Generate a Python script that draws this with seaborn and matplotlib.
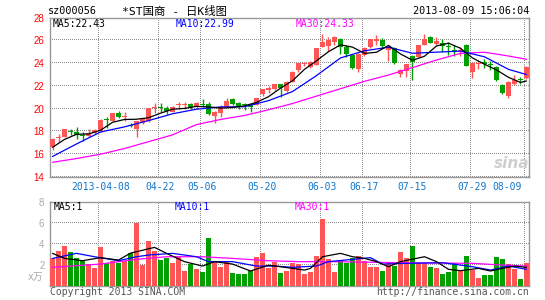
import numpy as np
import pandas as pd
import matplotlib
matplotlib.use("Agg")
import matplotlib.pyplot as plt
import seaborn as sns

# ---------------- data ----------------
opens = [16.6, 17.45, 17.55, 18.05, 17.98, 17.62, 17.6, 17.83, 18.0, 19.12,
         18.92, 19.58, 19.28, 18.56, 18.2, 18.72, 18.95, 20.05, 20.17, 20.1,
         19.73, 20.28, 20.28, 20.41, 20.12, 20.42, 20.41, 19.36, 19.65, 20.17,
         20.85, 20.52, 20.38, 20.3, 20.32, 21.26, 21.68, 21.7, 22.14, 21.55,
         22.37, 23.39, 23.95, 23.68, 23.83, 25.44, 25.5, 25.88, 26.09, 25.44,
         24.71, 23.45, 24.71, 25.39, 25.98, 26.03, 25.15, 25.3, 23.02, 23.33,
         24.6, 24.56, 25.59, 26.26, 25.68, 25.79, 25.5, 25.15, 25.07, 25.59,
         23.25, 23.95, 24.12, 23.85, 23.63, 22.08, 21.11, 22.17, 22.55, 22.66]
highs = [17.4, 17.8, 18.25, 18.2, 18.35, 17.98, 18.2, 18.25, 19.05, 19.25,
         19.65, 19.82, 19.7, 18.7, 18.95, 19.1, 20.05, 20.47, 20.52, 20.2,
         20.25, 20.61, 20.6, 20.5, 20.55, 20.82, 20.55, 19.8, 20.3, 20.9,
         20.9, 20.6, 20.5, 20.4, 20.95, 21.75, 22.0, 22.2, 22.2, 22.4,
         23.3, 24.0, 24.1, 24.2, 25.35, 26.55, 26.3, 26.4, 26.2, 25.6,
         24.8, 24.85, 25.4, 26.1, 26.47, 26.2, 25.55, 25.4, 23.45, 23.95,
         24.75, 25.6, 26.55, 26.4, 26.3, 26.09, 25.88, 25.6, 25.4, 25.7,
         24.12, 24.2, 24.35, 24.15, 23.7, 22.2, 22.4, 22.96, 22.75, 23.75]
lows = [16.37, 17.1, 17.5, 17.7, 17.3, 17.2, 17.55, 17.8, 17.95, 18.3,
        18.9, 19.2, 18.95, 18.35, 17.5, 18.65, 18.8, 19.62, 19.73, 19.5,
        19.7, 19.94, 20.0, 19.95, 20.0, 20.12, 19.4, 18.71, 19.3, 20.1,
        20.35, 19.95, 19.9, 19.73, 20.3, 21.15, 21.35, 21.65, 21.05, 21.5,
        22.3, 23.25, 23.7, 23.6, 23.8, 25.4, 25.1, 25.6, 24.8, 24.5,
        23.5, 23.25, 24.6, 25.3, 25.6, 25.3, 24.21, 23.9, 22.8, 22.8,
        22.5, 24.5, 25.55, 25.75, 25.6, 25.0, 24.71, 24.6, 24.65, 23.7,
        22.66, 23.5, 23.6, 23.35, 22.4, 21.3, 20.96, 22.08, 22.2, 22.6]
closes = [17.34, 17.5, 18.2, 17.92, 17.7, 17.56, 17.87, 18.15, 19.0, 19.02,
          19.58, 19.3, 19.34, 18.46, 18.94, 19.05, 20.02, 20.1, 20.05, 19.75,
          20.17, 20.33, 20.33, 20.17, 20.47, 20.35, 19.5, 19.73, 20.17, 20.7,
          20.41, 20.23, 20.28, 20.15, 20.9, 21.73, 21.72, 22.14, 21.84, 22.31,
          23.25, 23.98, 24.0, 24.12, 25.3, 25.88, 26.03, 26.26, 25.44, 24.8,
          23.54, 24.77, 25.3, 26.09, 26.05, 25.5, 25.5, 23.98, 23.39, 23.92,
          24.12, 25.59, 26.09, 25.79, 25.97, 25.5, 25.42, 25.02, 25.12, 23.75,
          23.98, 24.0, 23.9, 23.8, 22.52, 21.35, 22.37, 22.52, 22.5, 23.68]
volumes = [2.6, 3.3, 3.78, 3.2, 2.63, 2.44, 2.06, 1.71, 3.68, 2.19,
           2.35, 2.19, 2.35, 3.14, 6.0, 1.97, 4.25, 3.3, 2.44, 2.67,
           2.19, 2.76, 1.43, 2.1, 1.59, 1.3, 4.54, 2.29, 1.78, 2.35,
           1.24, 1.11, 1.11, 1.4, 2.73, 3.14, 1.71, 2.22, 1.24, 1.43,
           2.19, 2.06, 1.14, 1.33, 2.83, 6.35, 2.57, 1.33, 2.44, 2.13,
           2.63, 2.83, 2.35, 1.81, 1.81, 1.4, 2.19, 1.87, 3.21, 2.63,
           3.81, 2.19, 2.19, 1.78, 1.68, 1.11, 1.33, 2.13, 1.43, 2.83,
           1.49, 0.73, 1.02, 1.02, 2.73, 2.54, 2.06, 1.59, 0.63, 2.16]

# price moving averages
ma5_idx = [0, 2, 4, 6, 8, 10, 12, 14, 16, 18, 20, 22, 24, 26, 28, 30, 32, 34, 36, 38,
           40, 42, 44, 46, 48, 50, 52, 54, 56, 58, 60, 62, 64, 66, 68, 70, 72, 74, 76, 78, 79]
ma5_val = [16.6, 17.3, 17.75, 17.78, 18.1, 18.8, 19.05, 19.07, 19.2, 19.6, 19.95, 20.02,
           20.2, 20.15, 20.05, 20.1, 20.25, 20.55, 21.05, 21.8, 22.45, 23.45, 24.2, 25.0,
           25.6, 25.4, 24.85, 24.95, 25.55, 24.8, 24.25, 24.6, 25.5, 25.75, 25.3, 24.45,
           23.9, 23.4, 22.75, 22.3, 22.43]
ma_idx = [0, 4, 8, 12, 16, 20, 24, 28, 32, 36, 40, 44, 48, 52, 56, 60, 64, 68, 72, 76, 79]
ma10_val = [15.8, 16.9, 17.95, 18.4, 18.95, 19.55, 19.95, 20.15, 20.17, 20.7, 21.5,
            22.9, 24.45, 25.08, 25.39, 24.86, 24.96, 25.05, 24.55, 23.45, 22.99]
ma30_val = [15.29, 15.62, 16.0, 16.5, 17.1, 17.7, 18.6, 19.05, 19.4, 19.9, 20.45,
            21.1, 21.75, 22.4, 22.95, 23.6, 24.27, 24.85, 24.95, 24.62, 24.33]

# volume moving averages
vma5_idx = [0, 2, 5, 8, 11, 13, 17, 19, 22, 25, 27, 30, 33, 36, 38, 42, 43, 45, 48, 50,
            52, 54, 56, 58, 62, 64, 66, 68, 71, 73, 75, 77, 79]
vma5_val = [3.08, 2.6, 2.38, 2.67, 2.44, 3.1, 3.65, 3.08, 2.29, 1.87, 2.29, 2.06, 1.4,
            1.95, 1.81, 1.49, 1.65, 2.76, 3.08, 2.76, 2.6, 2.29, 1.81, 2.29, 2.76, 2.29,
            1.56, 1.43, 1.65, 1.4, 1.65, 1.87, 1.75]
vma10_idx = [0, 4, 7, 11, 14, 16, 20, 24, 26, 30, 34, 37, 40, 44, 46, 53, 55, 59, 65,
             70, 73, 76, 79]
vma10_val = [2.6, 3.08, 2.76, 2.38, 2.76, 2.92, 3.08, 2.76, 2.29, 2.29, 1.87, 1.87,
             1.75, 1.87, 2.29, 2.67, 2.06, 2.13, 2.19, 1.81, 1.49, 1.87, 1.56]
vma30_idx = [0, 8, 14, 19, 25, 30, 36, 41, 47, 58, 70, 75, 79]
vma30_val = [1.75, 2.06, 2.51, 2.76, 2.76, 2.6, 2.38, 2.29, 2.29, 2.19, 2.13, 1.97, 1.87]

tick_idx = [8, 18, 25, 35, 45, 52, 60, 70, 79]
tick_labels = ["2013-04-08", "04-22", "05-06", "05-20", "06-03", "06-17",
               "07-15", "07-29", "08-09"]
price_ticks = [14, 16, 18, 20, 22, 24, 26, 28]
vol_ticks = [2, 4, 6, 8]

# ---------------- style ----------------
sns.set_style("white")
plt.rcParams["font.family"] = ["DejaVu Sans Mono", "Noto Sans CJK SC"]

RED = "#FF5555"
GREEN = "#00A000"
GRID = "#909090"
SPINE = "#999999"
XLAB = "#1177CC"

W, H = 545, 300
fig = plt.figure(figsize=(W / 100, H / 100), dpi=100)
fig.patch.set_facecolor("white")


def px_axes(left, top, right, bottom):
    return fig.add_axes([left / W, 1 - bottom / H, (right - left) / W, (bottom - top) / H])


def ftext(x, y, s, **kw):
    fig.text(x / W, 1 - y / H, s, **kw)


ax1 = px_axes(50, 17.5, 529, 177)
ax2 = px_axes(50, 201.7, 529, 285.7)

n = len(closes)
idx = np.arange(n)
df = pd.DataFrame({"i": idx, "open": opens, "high": highs, "low": lows,
                   "close": closes, "vol": volumes})
df["dir"] = np.where(df["close"] >= df["open"], "up", "down")
colors = [RED if d == "up" else GREEN for d in df["dir"]]


# ---------------- dotted grid built from single-pixel dots ----------------
def dotted_grid(ax, yt, h_px, w_px=479):
    fy = np.arange(0, 1, 2.0 / h_px)
    fx = np.arange(0, 1, 2.0 / w_px)
    for t in tick_idx:
        ax.plot(np.full_like(fy, t - 0.35), fy, ",", color=GRID,
                transform=ax.get_xaxis_transform(), zorder=2.6)
    for t in yt:
        ax.plot(fx, np.full_like(fx, t), ",", color=GRID,
                transform=ax.get_yaxis_transform(), zorder=2.6)


# ---------------- price panel ----------------
ax1.vlines(df["i"], df["low"], df["high"], colors=colors, lw=1.0, zorder=3)
body_bottom = np.minimum(df["open"], df["close"])
body_h = np.maximum(np.abs(df["close"] - df["open"]), 0.09)
ax1.bar(df["i"], body_h, bottom=body_bottom, width=0.8, color=colors,
        linewidth=0, zorder=4)

sns.lineplot(x=ma_idx, y=ma30_val, ax=ax1, color="#FF00FF", lw=0.9, zorder=5)
sns.lineplot(x=ma_idx, y=ma10_val, ax=ax1, color="#0000FF", lw=0.9, zorder=5)
sns.lineplot(x=ma5_idx, y=ma5_val, ax=ax1, color="black", lw=0.9, zorder=5)

# ---------------- volume panel ----------------
sns.barplot(data=df, x="i", y="vol", hue="dir", palette={"up": RED, "down": GREEN},
            native_scale=True, dodge=False, width=0.8, legend=False, saturation=1,
            errorbar=None, linewidth=0, ax=ax2, zorder=3)
sns.lineplot(x=vma30_idx, y=vma30_val, ax=ax2, color="#FF00FF", lw=0.9, zorder=5)
sns.lineplot(x=vma10_idx, y=vma10_val, ax=ax2, color="#0000FF", lw=0.9, zorder=5)
sns.lineplot(x=vma5_idx, y=vma5_val, ax=ax2, color="black", lw=0.9, zorder=5)

for ax, yt, ycol, ylim, hpx in ((ax1, price_ticks, "#FF0000", (14, 28), 159.5),
                                (ax2, vol_ticks, "#AAAAAA", (0, 8), 84)):
    ax.set_xlim(-0.42, n - 0.58)
    ax.set_ylim(*ylim)
    ax.set_xticks(tick_idx)
    ax.set_xticklabels([])
    ax.set_yticks(yt)
    ax.set_yticklabels([str(t) for t in yt], color=ycol, fontsize=7,
                       fontfamily="Liberation Sans")
    ax.set_xlabel("")
    ax.set_ylabel("")
    ax.tick_params(length=0, pad=4)
    ax.grid(False)
    for sp in ax.spines.values():
        sp.set_visible(True)
        sp.set_color(SPINE)
        sp.set_linewidth(1.0)
    dotted_grid(ax, yt, hpx)

# x date labels under the price panel
for t, lab in zip(tick_idx, tick_labels):
    xpos = t if t != tick_idx[-1] else t - 3.2
    ax1.text(xpos, -0.061, lab, transform=ax1.get_xaxis_transform(), ha="center",
             va="center", color=XLAB, fontsize=7, fontfamily="DejaVu Sans Mono")

# ---------------- texts ----------------
ftext(48, 11, "sz000056", fontsize=7.3, va="center", ha="left", color="black")
ftext(122, 11, "*ST国商 - 日K线图", fontsize=8.2, va="center", ha="left", color="black")
ftext(529, 11, "2013-08-09 15:06:04", fontsize=7.3, va="center", ha="right", color="black")

ftext(53, 24, "MA5:22.43", fontsize=7, va="center", ha="left", color="black")
ftext(176, 24, "MA10:22.99", fontsize=7, va="center", ha="left", color="#0000FF")
ftext(296, 24, "MA30:24.33", fontsize=7, va="center", ha="left", color="#FF00FF")

ftext(54, 206.5, "MA5:1", fontsize=7, va="center", ha="left", color="black")
ftext(175, 206.5, "MA10:1", fontsize=7, va="center", ha="left", color="#0000FF")
ftext(295, 206.5, "MA30:1", fontsize=7, va="center", ha="left", color="#FF00FF")

ftext(43, 277, "x万", fontsize=7, va="center", ha="right", color="#AAAAAA")
ftext(50, 292, "Copyright 2013 SINA.COM", fontsize=7, va="center", ha="left", color="#555555")
ftext(529, 292, "http://finance.sina.com.cn", fontsize=7, va="center", ha="right", color="#555555")

ftext(512, 164, "sina", fontsize=11, va="center", ha="center", color="#CFCFCF",
      fontstyle="italic", fontweight="bold", fontfamily="DejaVu Sans")

fig.savefig("out.png", dpi=100, facecolor="white")
